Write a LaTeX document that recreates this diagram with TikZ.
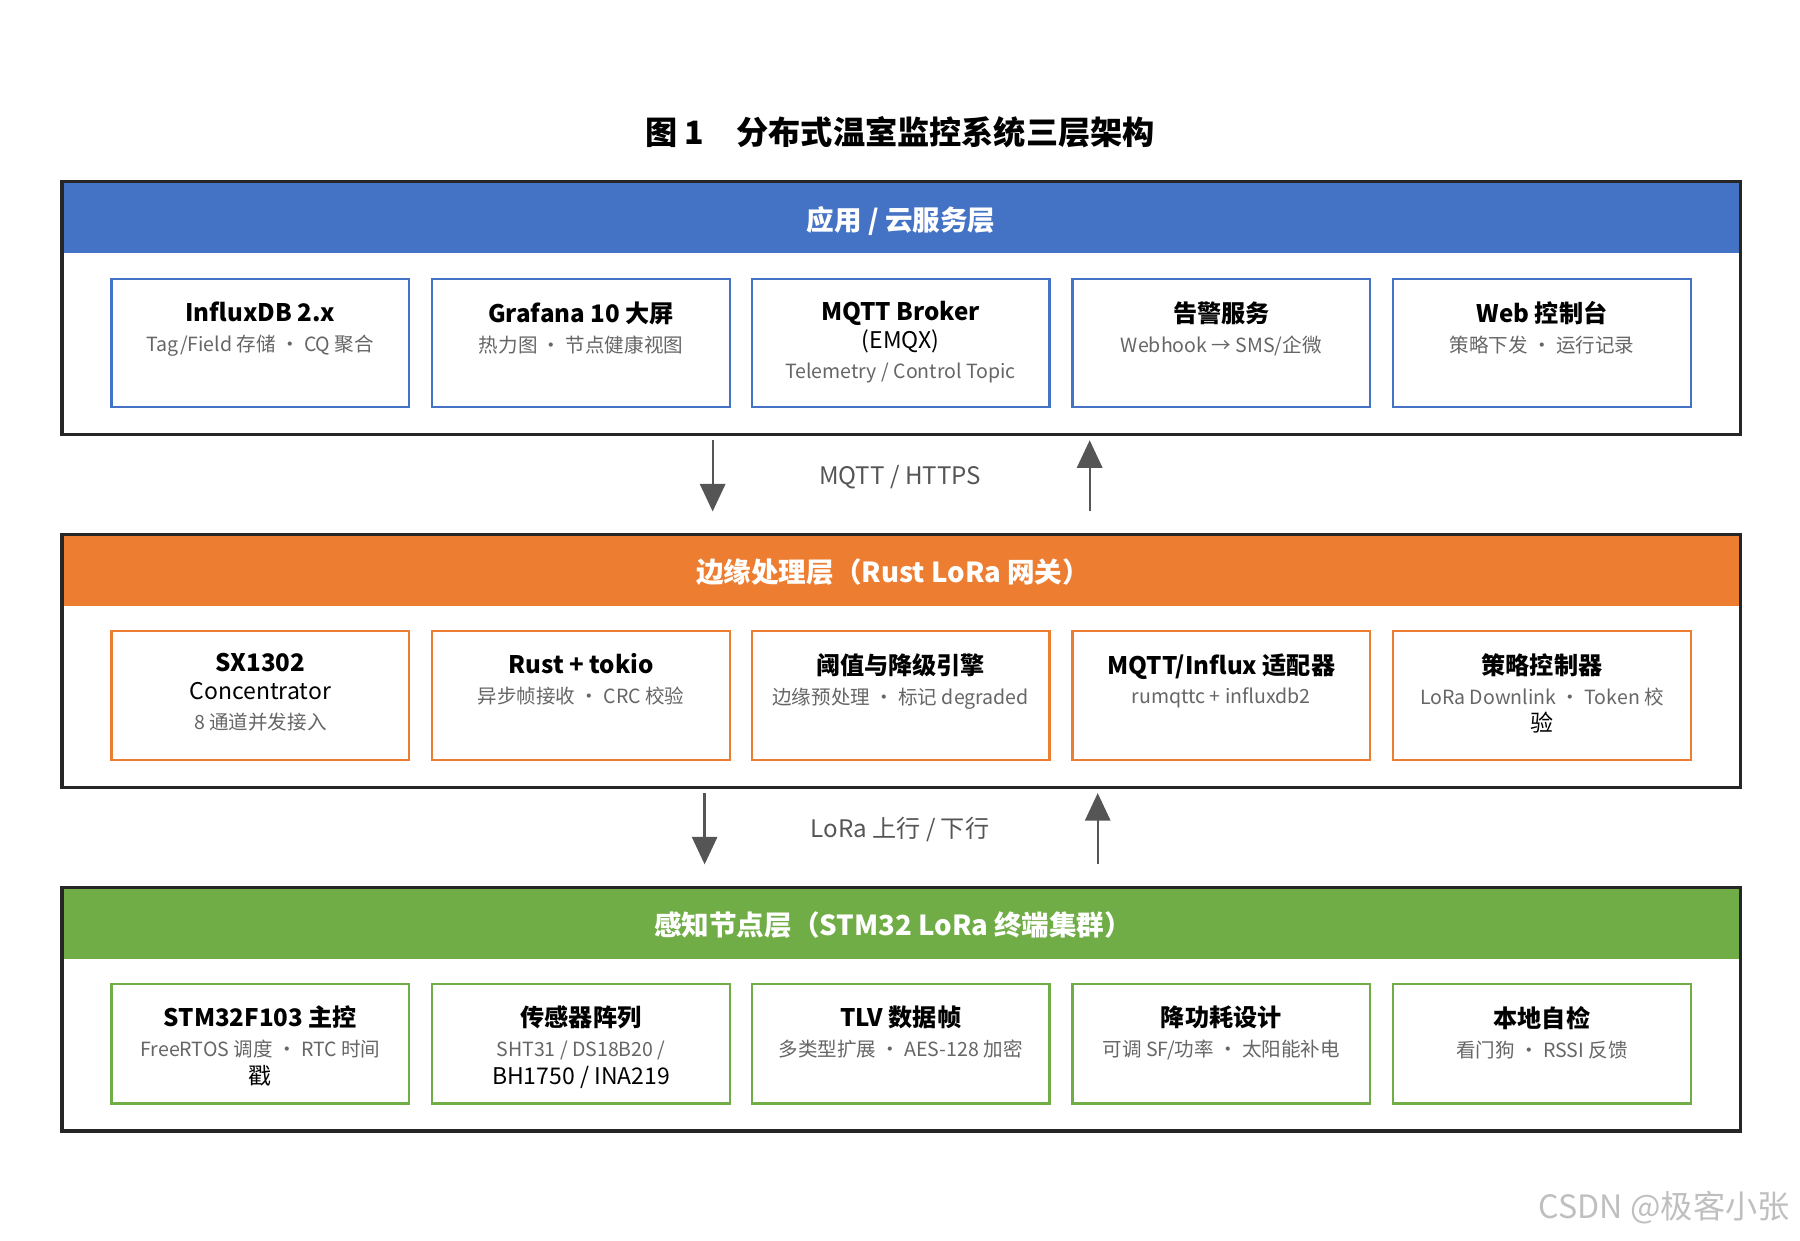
\documentclass[tikz,border=0pt]{standalone}
\usepackage{fontspec}
\setmainfont{Noto Sans CJK SC}
\usetikzlibrary{arrows.meta}
\definecolor{appblue}{HTML}{4472C4}
\definecolor{edgeorange}{HTML}{ED7D31}
\definecolor{nodegreen}{HTML}{70AD47}
\definecolor{subgray}{HTML}{666666}
\definecolor{arrgray}{HTML}{555555}
\tikzset{
  layer/.style={draw=black!85, line width=1.5pt},
  band/.style={fill=#1, draw=none},
  bandtext/.style={text=white, font=\fontsize{12}{14}\selectfont\bfseries},
  card/.style={draw=#1, line width=1pt, fill=white},
  cardtext/.style={anchor=north, align=center, inner sep=0pt},
  flow/.style={arrgray, line width=1pt, -{Triangle[length=12pt,width=11pt]}},
  flowlabel/.style={text=arrgray, font=\fontsize{10.5}{12}\selectfont}
}
\newcommand{\ctfont}{\fontsize{10.5}{14}\selectfont\bfseries}
\newcommand{\csfont}{\fontsize{8.5}{11}\selectfont\mdseries\color{subgray}}
% \card{name}{center x}{top}{bottom}{colour}{title}{subtitle}
\newcommand{\card}[7]{%
  \draw[card=#5] (#2-129.5,#3) rectangle (#2+129.5,#4);
  \node[cardtext] (#1) at (#2,#3+19) {\ctfont #6\\[1pt]\csfont #7};
}
\begin{document}
\begin{tikzpicture}[x=0.5pt,y=-0.5pt]
  \useasboundingbox (0,0) rectangle (1566,1079);
  \node (title) at (783,115) {\fontsize{14}{16}\selectfont\bfseries 图 1\quad 分布式温室监控系统三层架构};

  % application / cloud layer
  \fill[band=appblue] (54,158) rectangle (1514,220);
  \draw[layer] (54,158) rectangle (1514,378);
  \node[bandtext] (apphead) at (784,192) {应用 / 云服务层};
  \card{influx}{226.5}{243}{354}{appblue}{InfluxDB 2.x}{Tag/Field 存储 · CQ 聚合}
  \card{grafana}{505.5}{243}{354}{appblue}{Grafana 10 大屏}{热力图 · 节点健康视图}
  \card{broker}{783.5}{243}{354}{appblue}{MQTT Broker\\(EMQX)}{Telemetry / Control Topic}
  \card{alarm}{1062.5}{243}{354}{appblue}{告警服务}{Webhook → SMS/企微}
  \card{webui}{1341.5}{243}{354}{appblue}{Web 控制台}{策略下发 · 运行记录}

  % arrows cloud <-> edge
  \coordinate (c1top) at (620,383);
  \coordinate (c1bot) at (620,445);
  \coordinate (c2top) at (948,383);
  \coordinate (c2bot) at (948,445);
  \draw[flow] (c1top) -- (c1bot);
  \draw[flow] (c2bot) -- (c2top);
  \node[flowlabel] (mqttlbl) at (783,415) {MQTT / HTTPS};

  % edge layer
  \fill[band=edgeorange] (54,465) rectangle (1514,527);
  \draw[layer] (54,465) rectangle (1514,685);
  \node[bandtext] (edgehead) at (777,498) {边缘处理层（Rust LoRa 网关）};
  \card{sx}{226.5}{549}{661}{edgeorange}{SX1302\\Concentrator}{8 通道并发接入}
  \card{tokio}{505.5}{549}{661}{edgeorange}{Rust + tokio}{异步帧接收 · CRC 校验}
  \card{engine}{783.5}{549}{661}{edgeorange}{阈值与降级引擎}{边缘预处理 · 标记 degraded}
  \card{adapter}{1062.5}{549}{661}{edgeorange}{MQTT/Influx 适配器}{rumqttc + influxdb2}
  \card{policy}{1341.5}{549}{661}{edgeorange}{策略控制器}{LoRa Downlink · Token 校\\验}

  % arrows edge <-> sensing
  \coordinate (l1top) at (613,690);
  \coordinate (l1bot) at (613,752);
  \coordinate (l2top) at (955,690);
  \coordinate (l2bot) at (955,752);
  \draw[flow] (l1top) -- (l1bot);
  \draw[flow] (l2bot) -- (l2top);
  \node[flowlabel] (loralbl) at (783,722) {LoRa 上行 / 下行};

  % sensing layer
  \fill[band=nodegreen] (54,772) rectangle (1514,834);
  \draw[layer] (54,772) rectangle (1514,984);
  \node[bandtext] (nodehead) at (777,805) {感知节点层（STM32 LoRa 终端集群）};
  \card{mcu}{226.5}{856}{960}{nodegreen}{STM32F103 主控}{FreeRTOS 调度 · RTC 时间\\戳}
  \card{sensors}{505.5}{856}{960}{nodegreen}{传感器阵列}{SHT31 / DS18B20 /\\BH1750 / INA219}
  \card{tlv}{783.5}{856}{960}{nodegreen}{TLV 数据帧}{多类型扩展 · AES-128 加密}
  \card{power}{1062.5}{856}{960}{nodegreen}{降功耗设计}{可调 SF/功率 · 太阳能补电}
  \card{selftest}{1341.5}{856}{960}{nodegreen}{本地自检}{看门狗 · RSSI 反馈}

  \node[text=black!25, font=\fontsize{14}{16}\selectfont, anchor=east] (mark) at (1564,1051) {CSDN @极客小张};
\end{tikzpicture}
\end{document}
